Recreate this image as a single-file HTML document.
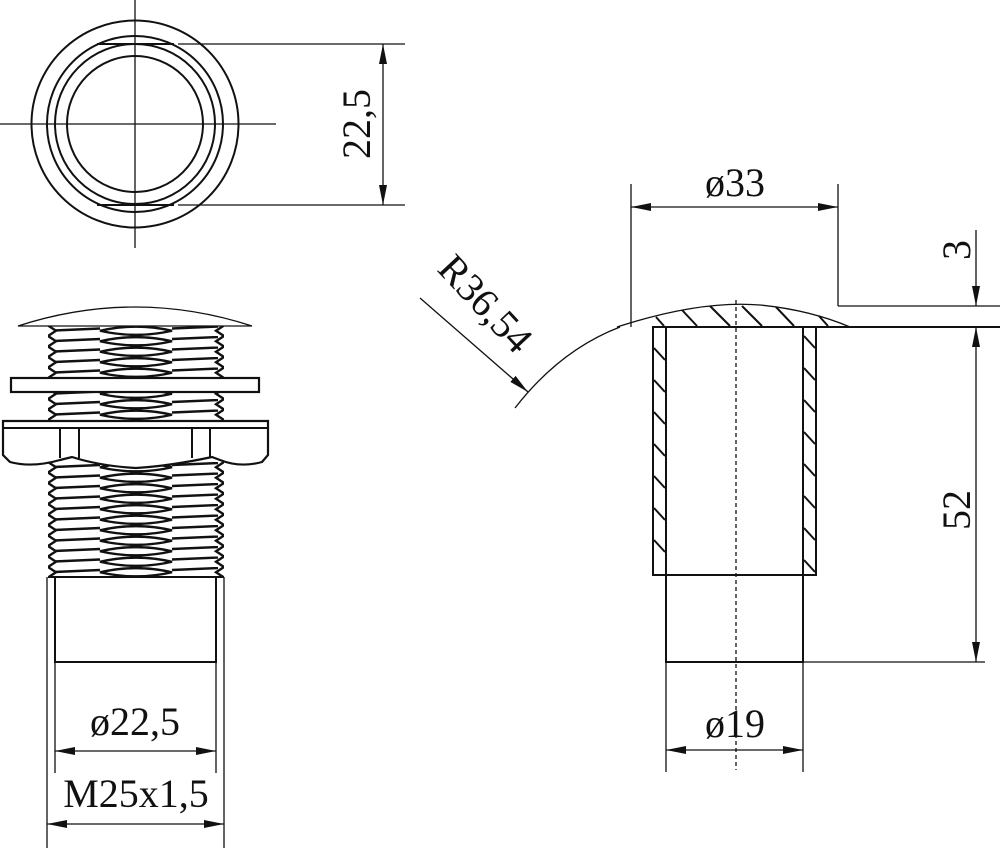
<!DOCTYPE html>
<html><head><meta charset="utf-8"><style>
html,body{margin:0;padding:0;background:#fff;}
svg{display:block;}
text{font-family:"Liberation Serif","DejaVu Serif",serif;font-size:40px;fill:#111;}
</style></head><body>
<svg width="1000" height="848" viewBox="0 0 1000 848" xmlns="http://www.w3.org/2000/svg">
<defs>
<marker id="a" viewBox="0 0 20 8" refX="20" refY="4" markerWidth="20" markerHeight="8" markerUnits="userSpaceOnUse" orient="auto-start-reverse"><path d="M0,0 L20,4 L0,8 Z" fill="#111"/></marker>
<pattern id="thr" patternUnits="userSpaceOnUse" x="0" y="0" width="1000" height="10.5">
<g fill="none" stroke="#111" stroke-width="2.4">
<path d="M48,0 L56,5.25 L48,10.5"/>
<path d="M224,0 L216,5.25 L224,10.5"/>
<path d="M54,5 L100,3"/>
<path d="M172,3 L218,1"/>
<path d="M100,5.25 Q136,-3 172,5.25 Q136,13.5 100,5.25Z"/>
</g>
</pattern>
</defs>
<g fill="none" stroke="#111" stroke-width="1.3">
<line x1="0" y1="124" x2="276" y2="124"/>
<line x1="135" y1="0" x2="135" y2="248"/>
<circle cx="135" cy="124" r="103.5" stroke-width="2"/>
<circle cx="135" cy="124" r="88" stroke-width="2"/>
<circle cx="135" cy="124" r="80" stroke-width="2"/>
<circle cx="135" cy="124" r="68" stroke-width="2"/>
<line x1="97" y1="44" x2="174" y2="44" stroke-width="2"/>
<line x1="97" y1="205" x2="174" y2="205" stroke-width="2"/>
<line x1="178" y1="44" x2="405" y2="44"/>
<line x1="178" y1="205" x2="405" y2="205"/>
<line x1="383" y1="44" x2="383" y2="205" marker-start="url(#a)" marker-end="url(#a)"/>

<path d="M18,326 Q135,288 252,326 Z"/>
<rect x="48" y="326" width="176" height="52" fill="url(#thr)" stroke="none"/>
<rect x="48" y="392" width="176" height="29" fill="url(#thr)" stroke="none"/>
<rect x="48" y="462" width="176" height="115" fill="url(#thr)" stroke="none"/>
<rect x="11" y="378" width="248" height="14" fill="#fff" stroke-width="2.2"/>
<path d="M3,421 H268 V455 L262,462 Q240,468 220,460 L212,457 H212 Q170,466 136,468 Q100,466 72,457 L60,460 Q32,468 10,462 L3,455 Z" fill="#fff" stroke-width="2.2"/>
<line x1="3" y1="428" x2="268" y2="428" stroke-width="2"/>
<line x1="60" y1="428" x2="60" y2="458" stroke-width="2"/>
<line x1="79" y1="428" x2="79" y2="458" stroke-width="2"/>
<line x1="192" y1="428" x2="192" y2="458" stroke-width="2"/>
<line x1="210" y1="428" x2="210" y2="458" stroke-width="2"/>
<line x1="48" y1="577" x2="224" y2="577" stroke-width="2"/>
<rect x="55" y="577" width="161" height="85" stroke-width="2"/>
<line x1="47" y1="577" x2="47" y2="848"/>
<line x1="224" y1="577" x2="224" y2="848"/>
<line x1="55" y1="662" x2="55" y2="773"/>
<line x1="216" y1="662" x2="216" y2="773"/>
<line x1="55" y1="751" x2="216" y2="751" marker-start="url(#a)" marker-end="url(#a)"/>
<line x1="47" y1="824" x2="224" y2="824" marker-start="url(#a)" marker-end="url(#a)"/>

<line x1="736" y1="300" x2="736" y2="770" stroke-dasharray="4,3"/>
<path d="M515,408 Q560,350 620,327"/>
<path d="M617,327 Q700,300 760,305 Q810,310 850,327"/>
<line x1="653" y1="327" x2="1000" y2="327" stroke-width="2"/>
<line x1="838" y1="306" x2="1000" y2="306"/>
<rect x="653" y="327" width="13" height="248" stroke-width="2"/>
<rect x="803" y="327" width="13" height="248" stroke-width="2"/>
<line x1="653" y1="575" x2="816" y2="575" stroke-width="2"/>
<rect x="666" y="575" width="137" height="87" stroke-width="2"/>
<line x1="803" y1="662" x2="985" y2="662"/>
<line x1="666" y1="662" x2="666" y2="772"/>
<line x1="803" y1="662" x2="803" y2="772"/>
<line x1="666" y1="750" x2="803" y2="750" marker-start="url(#a)" marker-end="url(#a)"/>
<line x1="631" y1="184" x2="631" y2="327"/>
<line x1="838" y1="184" x2="838" y2="306"/>
<line x1="631" y1="207" x2="838" y2="207" marker-start="url(#a)" marker-end="url(#a)"/>
<line x1="976" y1="230" x2="976" y2="306" marker-end="url(#a)"/>
<line x1="976" y1="327" x2="976" y2="662" marker-start="url(#a)" marker-end="url(#a)"/>
<line x1="420" y1="298" x2="528" y2="392" marker-end="url(#a)"/>
<g stroke-width="2">
<line x1="656" y1="317" x2="664" y2="326"/>
<line x1="682" y1="310" x2="697" y2="326"/>
<line x1="710" y1="306" x2="730" y2="326"/>
<line x1="742" y1="306" x2="762" y2="326"/>
<line x1="776" y1="307" x2="794" y2="326"/>
<line x1="819" y1="316" x2="828" y2="326"/>
<line x1="654" y1="348" x2="665" y2="360"/>
<line x1="654" y1="380" x2="665" y2="392"/>
<line x1="654" y1="412" x2="665" y2="424"/>
<line x1="654" y1="444" x2="665" y2="456"/>
<line x1="654" y1="476" x2="665" y2="488"/>
<line x1="654" y1="508" x2="665" y2="520"/>
<line x1="654" y1="540" x2="665" y2="552"/>
<line x1="804" y1="336" x2="815" y2="348"/>
<line x1="804" y1="368" x2="815" y2="380"/>
<line x1="804" y1="400" x2="815" y2="412"/>
<line x1="804" y1="432" x2="815" y2="444"/>
<line x1="804" y1="464" x2="815" y2="476"/>
<line x1="804" y1="496" x2="815" y2="508"/>
<line x1="804" y1="528" x2="815" y2="540"/>
<line x1="804" y1="560" x2="815" y2="572"/>
</g>
</g>
<g stroke="none">
<text x="135" y="735" text-anchor="middle">ø22,5</text>
<text x="136" y="807" text-anchor="middle">M25x1,5</text>
<text x="735" y="196" text-anchor="middle">ø33</text>
<text x="735" y="737" text-anchor="middle">ø19</text>
<text transform="translate(370,124) rotate(-90)" text-anchor="middle">22,5</text>
<text transform="translate(970,250) rotate(-90)" text-anchor="middle">3</text>
<text transform="translate(970,510) rotate(-90)" text-anchor="middle">52</text>
<text transform="translate(436,270) rotate(47)">R36,54</text>
</g>
</svg>
</body></html>
